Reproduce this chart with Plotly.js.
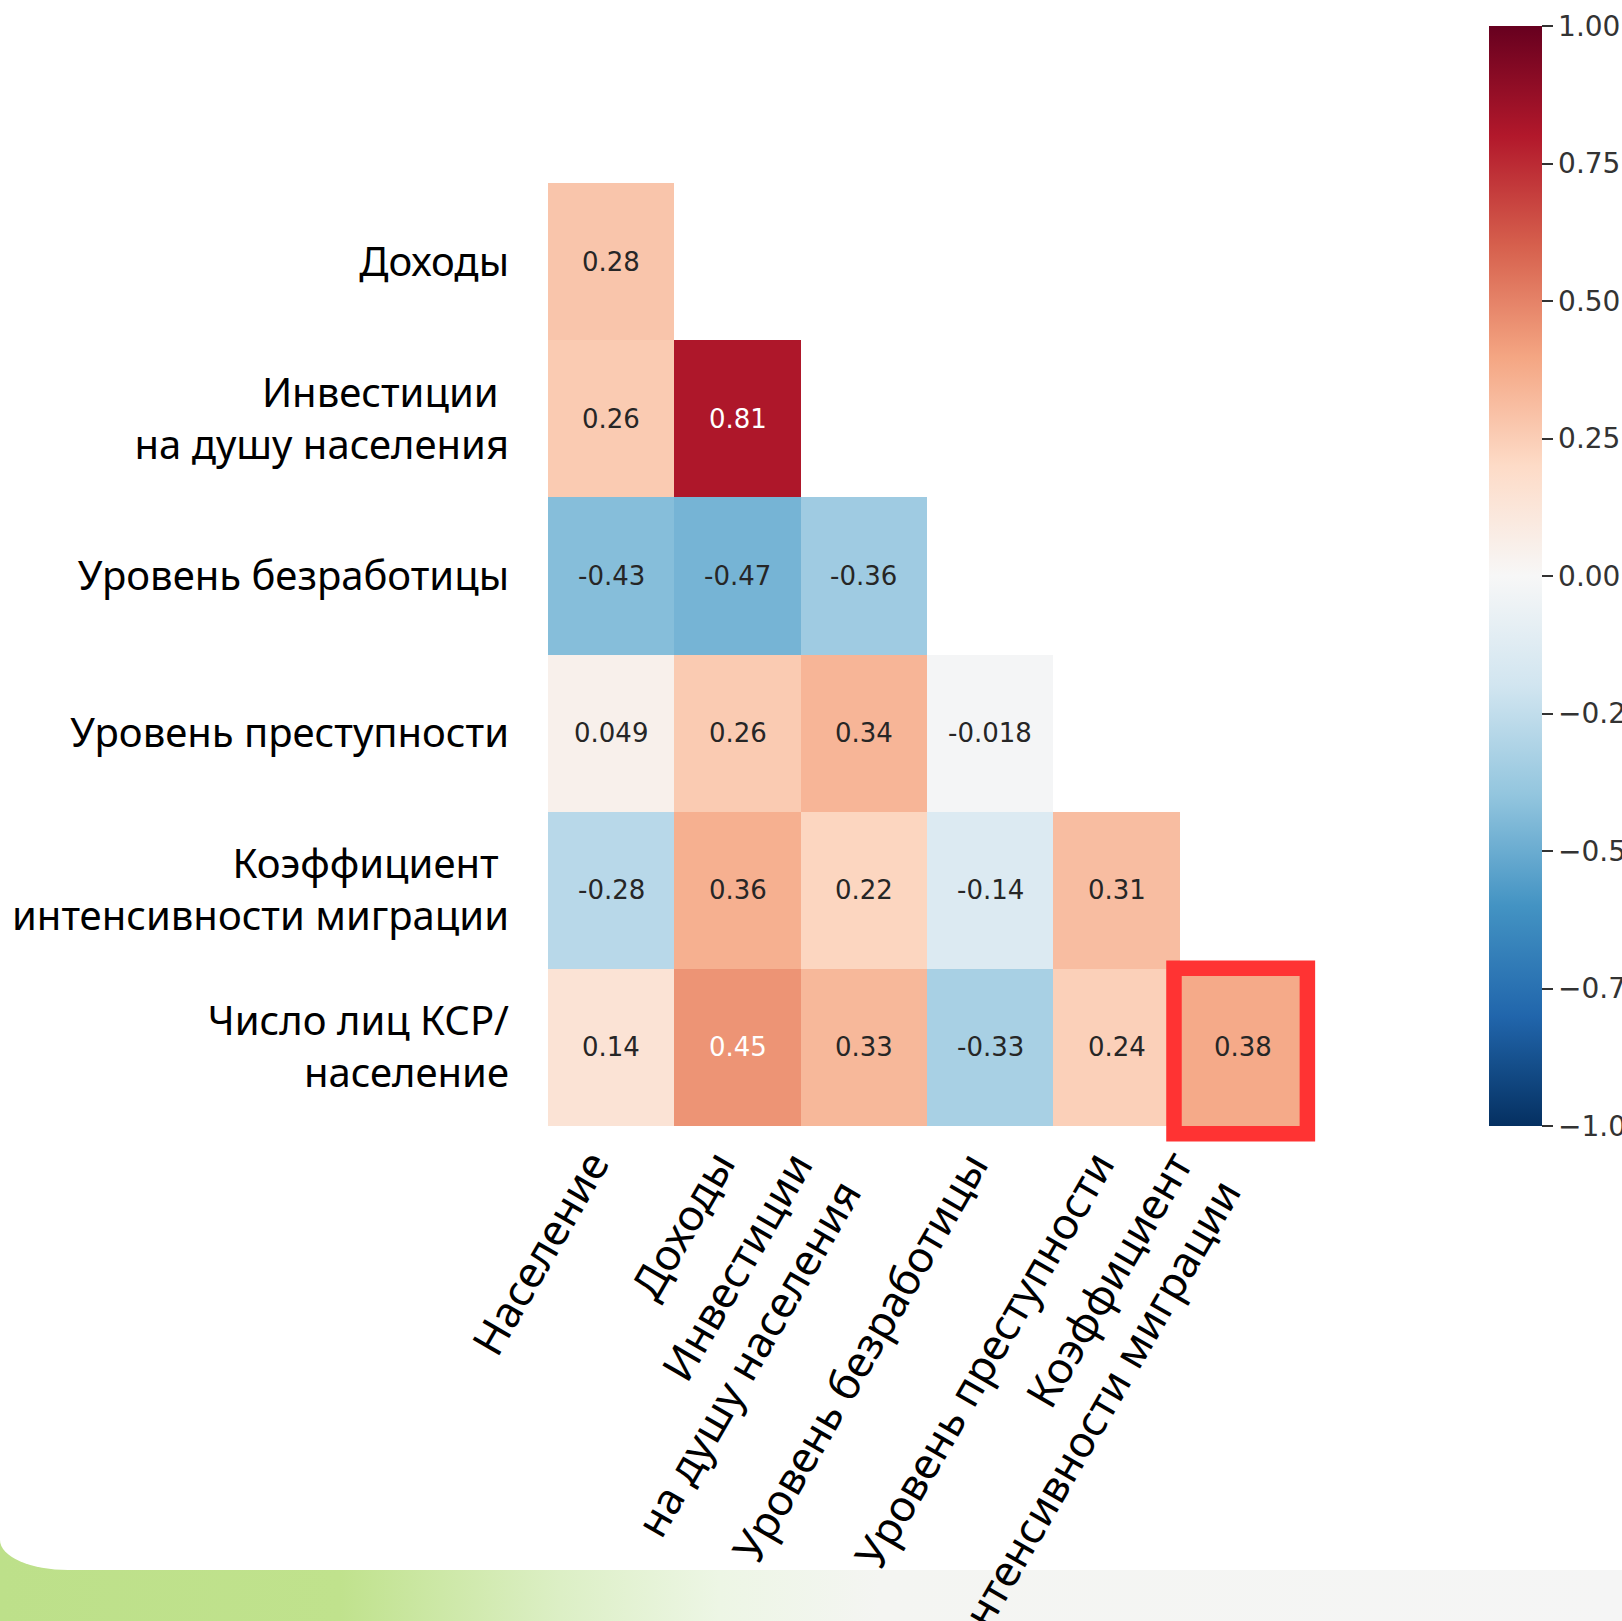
<!DOCTYPE html>
<html>
<head>
<meta charset="utf-8">
<script src="https://cdn.plot.ly/plotly-3.0.1.min.js"></script>
<style>
  html, body { margin:0; padding:0; overflow:hidden; width:1622px; height:1621px; }
  body { background: linear-gradient(90deg, #bde08a 0px, #c0e28d 340px, #dcefc5 560px, #edf6e5 720px, #f4f5f2 880px, #f5f5f5 1622px); }
  #bg { position:absolute; left:0; top:0; width:1622px; height:1570px; background:#ffffff; border-bottom-left-radius: 68px 30px; }
  #chart { position:absolute; left:0; top:0; width:1622px; height:1621px; }
</style>
</head>
<body>
<div id="bg"></div>
<div id="chart"></div>
<script>
// ---- Data ----
const colLabels = [
  "Население",
  "Доходы",
  "Инвестиции<br>на душу населения",
  "Уровень безработицы",
  "Уровень преступности",
  "Коэффициент<br>интенсивности миграции"
];
const rowLabels = [
  "Доходы",
  "Инвестиции\u00a0<br>на душу населения",
  "Уровень безработицы",
  "Уровень преступности",
  "Коэффициент\u00a0<br>интенсивности миграции",
  "Число лиц КСР/<br>население"
];
const rowDohody       = [0.28];
const rowInvest       = [0.26, 0.81];
const rowBezrabotica  = [-0.43, -0.47, -0.36];
const rowPrestupnost  = [0.049, 0.26, 0.34, -0.018];
const rowMigracia     = [-0.28, 0.36, 0.22, -0.14, 0.31];
const rowKSR          = [0.14, 0.45, 0.33, -0.33, 0.24, 0.38];
const cbTickVals  = [-1, -0.75, -0.5, -0.25, 0, 0.25, 0.5, 0.75, 1];
const cbTickText  = ["\u22121.00", "\u22120.75", "\u22120.50", "\u22120.25", "0.00", "0.25", "0.50", "0.75", "1.00"];
const highlighted = {row: 5, col: 5};

// ---- matplotlib RdBu_r ----
const rdbu = ["#053061","#2166ac","#4393c3","#92c5de","#d1e5f0","#f7f7f7","#fddbc7","#f4a582","#d6604d","#b2182b","#67001f"];
const colorscale = rdbu.map((c, i) => [i / (rdbu.length - 1), c]);

function hexToRgb(h) { return [parseInt(h.slice(1,3),16), parseInt(h.slice(3,5),16), parseInt(h.slice(5,7),16)]; }
function colorAt(v) {
  const t = Math.min(1, Math.max(0, (v + 1) / 2)) * (rdbu.length - 1);
  const i = Math.min(rdbu.length - 2, Math.floor(t));
  const f = t - i;
  const a = hexToRgb(rdbu[i]), b = hexToRgb(rdbu[i+1]);
  return a.map((x, k) => x + (b[k] - x) * f);
}
function relLum(rgb) {
  const c = rgb.map(x => { x = x / 255; return x <= 0.03928 ? x / 12.92 : Math.pow((x + 0.055) / 1.055, 2.4); });
  return 0.2126 * c[0] + 0.7152 * c[1] + 0.0722 * c[2];
}

const rows = [rowDohody, rowInvest, rowBezrabotica, rowPrestupnost, rowMigracia, rowKSR];
const z = rows.map(r => colLabels.map((_, j) => (j < r.length ? r[j] : null)));

const labelFont = 'Comic Sans MS, Noto Sans, sans-serif';
const annotations = [];
rows.forEach((r, i) => r.forEach((v, j) => {
  const lum = relLum(colorAt(v));
  annotations.push({
    x: colLabels[j], y: rowLabels[i], xref: 'x', yref: 'y',
    text: String(v), showarrow: false,
    font: {family: 'DejaVu Sans', size: 26, color: lum > 0.408 ? '#262626' : '#ffffff'}
  });
}));
// rotated x tick labels (right/top anchored like matplotlib)
colLabels.forEach((c) => {
  annotations.push({
    x: c, xref: 'x', y: 0, yref: 'paper', yshift: -13, xshift: 12,
    xanchor: 'right', yanchor: 'top', textangle: -60, align: 'right',
    text: c, showarrow: false, borderpad: 0,
    font: {family: labelFont, size: 43, color: '#000000'}
  });
});

const trace = {
  type: 'heatmap',
  z: z, x: colLabels, y: rowLabels,
  colorscale: colorscale, zmin: -1, zmax: 1,
  hoverongaps: false,
  colorbar: {
    x: 1.2413, xanchor: 'left', xpad: 0,
    y: 1.1664, yanchor: 'top', ypad: 0,
    lenmode: 'pixels', len: 1100,
    thickness: 53, thicknessmode: 'pixels',
    outlinewidth: 0,
    tickmode: 'array', tickvals: cbTickVals, ticktext: cbTickText,
    ticks: 'outside', ticklen: 11, tickwidth: 2, tickcolor: '#333333',
    tickfont: {family: 'DejaVu Sans', size: 28, color: '#333333'}
  }
};

// highlight box in paper coords derived from the highlighted cell index
const nC = colLabels.length, nR = rowLabels.length;
const shapes = [{
  type: 'rect', xref: 'paper', yref: 'paper', layer: 'above',
  x0: (highlighted.col + 0.5 - 0.545) / nC, x1: (highlighted.col + 0.5 + 0.511) / nC,
  y0: (nR - 0.5 - (highlighted.row - 0.503)) / nR, y1: (nR - 0.5 - (highlighted.row + 0.549)) / nR,
  line: {color: '#ff3333', width: 15.5}, fillcolor: 'rgba(0,0,0,0)'
}];

const layout = {
  width: 1622, height: 1621,
  margin: {l: 548, r: 315.5, t: 183, b: 494.6, pad: 0, autoexpand: false},
  paper_bgcolor: 'rgba(0,0,0,0)', plot_bgcolor: 'rgba(0,0,0,0)',
  xaxis: {
    type: 'category', range: [-0.5, 5.5], showgrid: false, zeroline: false, showline: false,
    ticks: '', showticklabels: false, automargin: false
  },
  yaxis: {
    type: 'category', range: [5.5, -0.5], showgrid: false, zeroline: false, showline: false,
    ticks: '', ticklabelstandoff: 38, automargin: false,
    tickfont: {family: labelFont, size: 40, color: '#000000'}
  },
  annotations: annotations,
  shapes: shapes,
  showlegend: false
};

Plotly.newPlot('chart', [trace], layout, {displayModeBar: false, staticPlot: true});
</script>
</body>
</html>
